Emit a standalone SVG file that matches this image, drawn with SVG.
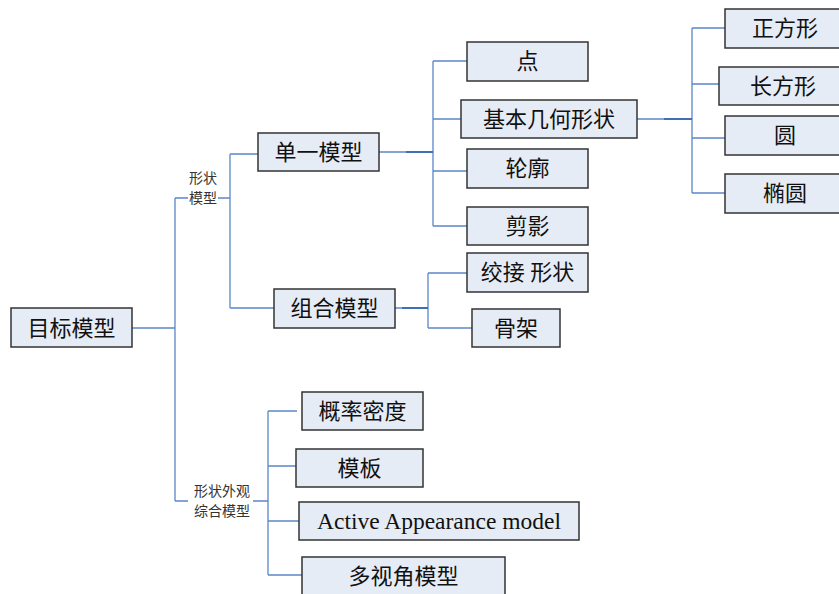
<svg xmlns="http://www.w3.org/2000/svg" width="839" height="594" viewBox="0 0 839 594">
<style>
.box{fill:#e6ecf6;stroke:#333;stroke-width:1.5}
.t{font-family:"Liberation Serif","Noto Sans CJK SC",serif;font-size:22px;fill:#111;text-anchor:middle}
.e{font-size:23.5px}
.s{font-family:"Liberation Serif","Noto Sans CJK SC",serif;font-size:14px;fill:#333;text-anchor:middle}
.c{fill:none;stroke:#5b87c7;stroke-width:1.3}
.d{fill:none;stroke:#3f6fb5;stroke-width:2}
</style>
<rect width="839" height="594" fill="#fff"/>
<g id="connectors">
<path class="c" d="M132 328H175M175 198V501M175 198H188M218 198H230M230 154V308M230 154H258M230 308H274"/>
<path class="c" d="M175 501H188M253 501H268M268 411V575M268 411H297M268 466H296M268 521H299M268 575H302"/>
<path class="c" d="M379 152H406M433 61V226M433 61H467M433 119H461M433 171H467M433 226H467"/>
<path class="d" d="M406 152H433"/>
<path class="c" d="M637 119H664M692 28V193M692 28H725M692 84H719M692 138H725M692 193H725"/>
<path class="d" d="M664 119H692"/>
<path class="c" d="M395 308H402M428 273V328M428 273H467M428 328H472"/>
<path class="d" d="M402 308H428"/>
</g>
<g id="root"><rect class="box" x="11" y="308" width="121" height="39"/><text class="t" x="71.5" y="335.5">目标模型</text></g>
<g id="shape-label"><text class="s" x="203" y="183">形状</text><text class="s" x="203" y="203">模型</text></g>
<g id="shape-app-label"><text class="s" x="222" y="496">形状外观</text><text class="s" x="222" y="516">综合模型</text></g>
<g id="single"><rect class="box" x="258" y="133" width="121" height="38"/><text class="t" x="318.5" y="159.5">单一模型</text></g>
<g id="combo"><rect class="box" x="274" y="289" width="121" height="39"/><text class="t" x="334.5" y="316">组合模型</text></g>
<g id="point"><rect class="box" x="467" y="42" width="121" height="39"/><text class="t" x="527.5" y="69">点</text></g>
<g id="basic"><rect class="box" x="461" y="100" width="176" height="38"/><text class="t" x="549" y="126.5">基本几何形状</text></g>
<g id="contour"><rect class="box" x="467" y="149" width="121" height="39"/><text class="t" x="527.5" y="176">轮廓</text></g>
<g id="silhouette"><rect class="box" x="467" y="207" width="121" height="38"/><text class="t" x="527.5" y="233.5">剪影</text></g>
<g id="square"><rect class="box" x="725" y="9" width="120" height="39"/><text class="t" x="785" y="36">正方形</text></g>
<g id="rect"><rect class="box" x="719" y="67" width="126" height="38"/><text class="t" x="783" y="93.5">长方形</text></g>
<g id="circle"><rect class="box" x="725" y="116" width="120" height="39"/><text class="t" x="785" y="143">圆</text></g>
<g id="ellipse"><rect class="box" x="725" y="174" width="120" height="39"/><text class="t" x="785" y="201">椭圆</text></g>
<g id="hinge"><rect class="box" x="467" y="253" width="121" height="39"/><text class="t" x="527.5" y="280">绞接 形状</text></g>
<g id="skeleton"><rect class="box" x="472" y="309" width="88" height="38"/><text class="t" x="516" y="335.5">骨架</text></g>
<g id="density"><rect class="box" x="302" y="392" width="121" height="38"/><text class="t" x="362.5" y="418.5">概率密度</text></g>
<g id="template"><rect class="box" x="296" y="449" width="127" height="38"/><text class="t" x="359.5" y="475.5">模板</text></g>
<g id="aam"><rect class="box" x="299" y="502" width="280" height="38"/><text class="t e" x="439" y="529">Active Appearance model</text></g>
<g id="multiview"><rect class="box" x="302" y="557" width="203" height="40"/><text class="t" x="403.5" y="584">多视角模型</text></g>
</svg>
